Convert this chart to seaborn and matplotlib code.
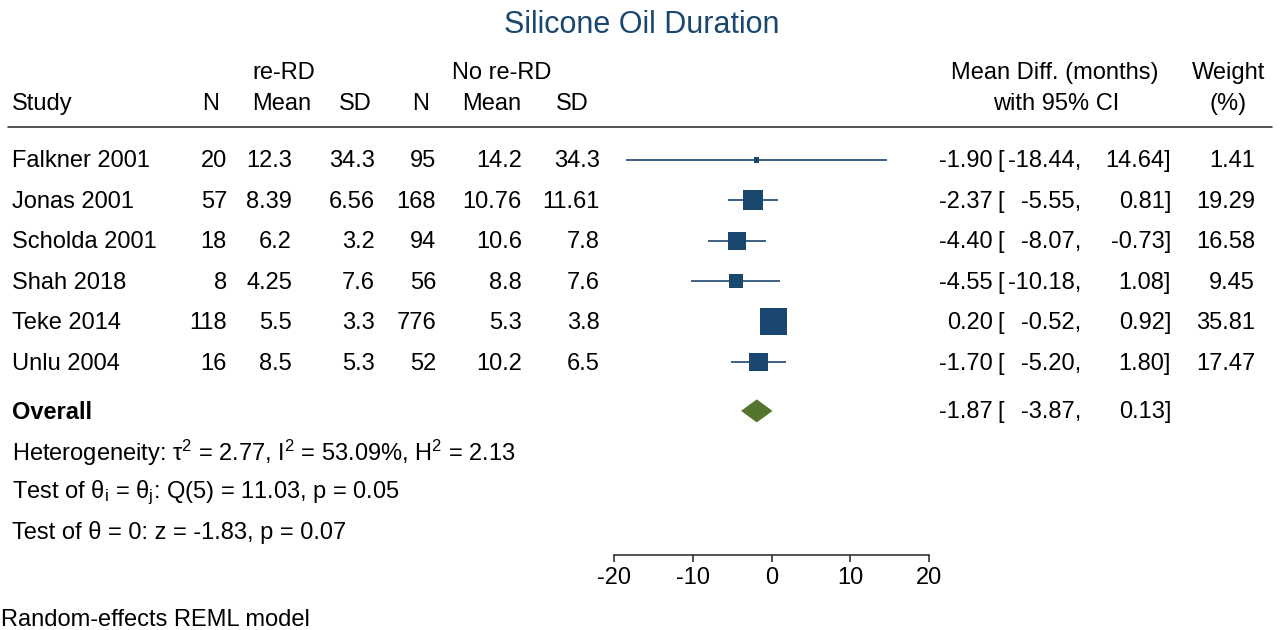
import numpy as np
import pandas as pd
import matplotlib
matplotlib.use('Agg')
import matplotlib.pyplot as plt
import matplotlib.transforms as mtransforms
import seaborn as sns

# study data
studies = ['Falkner 2001', 'Jonas 2001', 'Scholda 2001', 'Shah 2018', 'Teke 2014', 'Unlu 2004']
n_rerd = [20, 57, 18, 8, 118, 16]
mean_rerd = [12.3, 8.39, 6.2, 4.25, 5.5, 8.5]
sd_rerd = [34.3, 6.56, 3.2, 7.6, 3.3, 5.3]
n_no = [95, 168, 94, 56, 776, 52]
mean_no = [14.2, 10.76, 10.6, 8.8, 5.3, 10.2]
sd_no = [34.3, 11.61, 7.8, 7.6, 3.8, 6.5]
md = [-1.90, -2.37, -4.40, -4.55, 0.20, -1.70]
ci_lo = [-18.44, -5.55, -8.07, -10.18, -0.52, -5.20]
ci_hi = [14.64, 0.81, -0.73, 1.08, 0.92, 1.80]
weight = [1.41, 19.29, 16.58, 9.45, 35.81, 17.47]

overall_md = -1.87
overall_lo = -3.87
overall_hi = 0.13

xticks = [-20, -10, 0, 10, 20]

het_lines = [
    'Heterogeneity: τ$^2$ = 2.77, I$^2$ = 53.09%, H$^2$ = 2.13',
    'Test of θ$_i$ = θ$_j$: Q(5) = 11.03, p = 0.05',
    'Test of θ = 0: z = -1.83, p = 0.07',
]

df = pd.DataFrame({'study': studies, 'md': md, 'lo': ci_lo, 'hi': ci_hi, 'weight': weight})
df['row'] = np.arange(len(df))
overall_row = len(df) + 0.21

sns.set_theme(style='white')
plt.rcParams['font.family'] = ['Liberation Sans', 'DejaVu Sans']
plt.rcParams['mathtext.default'] = 'regular'

W, H = 1280, 630
fs = 17
navy = '#1a476f'
green = '#55752f'

fig = plt.figure(figsize=(12.8, 6.3), dpi=100)
ax = fig.add_axes([614 / W, 75 / H, 315 / W, 415 / H])

ax.hlines(df['row'], df['lo'], df['hi'], color=navy, lw=1.2, zorder=2)
wmin, wmax = min(weight), max(weight)
sns.scatterplot(data=df, x='md', y='row', size='weight', sizes=(10.56 * wmin, 10.56 * wmax),
                size_norm=(wmin, wmax), marker='s', color=navy, linewidth=0,
                legend=False, ax=ax, zorder=3)

h = 0.285
ax.fill([overall_lo, overall_md, overall_hi, overall_md],
        [overall_row, overall_row - h, overall_row, overall_row + h],
        color=green, lw=0, zorder=3)

ax.set_xlim(-20, 20)
ax.set_ylim(9.777, -0.495)
ax.set_xticks(xticks)
ax.set_xticklabels([str(t) for t in xticks])
ax.set_yticks([])
ax.set_xlabel('')
ax.set_ylabel('')
for s in ['top', 'left', 'right']:
    ax.spines[s].set_visible(False)
ax.spines['bottom'].set_color('#222222')
ax.spines['bottom'].set_linewidth(1.1)
ax.tick_params(axis='x', direction='out', length=5, width=1.1, color='#222222',
               labelsize=fs, labelcolor='black', pad=4, bottom=True)
ax.patch.set_alpha(0)


def fx(px):
    return px / W


def fy(py):
    return 1 - py / H


tr = mtransforms.blended_transform_factory(fig.transFigure, ax.transData)
tr = mtransforms.offset_copy(tr, fig=fig, x=0, y=-1.5, units='dots')
txt = dict(fontsize=fs, color='black', va='center')

# title
fig.text(fx(642), fy(25), 'Silicone Oil Duration', fontsize=22, color=navy, ha='center', va='center')

# headers
fig.text(fx(284), fy(73), 're-RD', ha='center', **txt)
fig.text(fx(502), fy(73), 'No re-RD', ha='center', **txt)
fig.text(fx(1055), fy(73), 'Mean Diff. (months)', ha='center', **txt)
fig.text(fx(1229), fy(73), 'Weight', ha='center', **txt)
fig.text(fx(12), fy(104), 'Study', ha='left', **txt)
for lab, cx in [('N', 211), ('Mean', 282), ('SD', 355), ('N', 421), ('Mean', 492), ('SD', 572)]:
    fig.text(fx(cx), fy(104), lab, ha='center', **txt)
fig.text(fx(1056), fy(104), 'with 95% CI', ha='center', **txt)
fig.text(fx(1228), fy(104), '(%)', ha='center', **txt)
fig.add_artist(plt.Line2D([fx(8), fx(1272)], [fy(127), fy(127)], transform=fig.transFigure,
                          color='#222222', lw=1.1))

# table rows
for i, r in enumerate(df['row']):
    fig.text(fx(12), r, studies[i], ha='left', transform=tr, **txt)
    cols = [(f'{n_rerd[i]}', 227), (f'{mean_rerd[i]:g}', 292), (f'{sd_rerd[i]:g}', 375),
            (f'{n_no[i]}', 436), (f'{mean_no[i]:g}', 522), (f'{sd_no[i]:g}', 600)]
    for s, rx in cols:
        fig.text(fx(rx), r, s, ha='right', transform=tr, **txt)
    fig.text(fx(993), r, f'{md[i]:.2f}', ha='right', transform=tr, **txt)
    fig.text(fx(997), r, '[', ha='left', transform=tr, **txt)
    fig.text(fx(1081), r, f'{ci_lo[i]:.2f},', ha='right', transform=tr, **txt)
    fig.text(fx(1171), r, f'{ci_hi[i]:.2f}]', ha='right', transform=tr, **txt)
    fig.text(fx(1255), r, f'{weight[i]:.2f}', ha='right', transform=tr, **txt)

fig.text(fx(12), overall_row, 'Overall', ha='left', fontweight='bold', transform=tr, **txt)
fig.text(fx(993), overall_row, f'{overall_md:.2f}', ha='right', transform=tr, **txt)
fig.text(fx(997), overall_row, '[', ha='left', transform=tr, **txt)
fig.text(fx(1081), overall_row, f'{overall_lo:.2f},', ha='right', transform=tr, **txt)
fig.text(fx(1171), overall_row, f'{overall_hi:.2f}]', ha='right', transform=tr, **txt)

for k, line in enumerate(het_lines):
    fig.text(fx(12), fy(453 + 40 * k), line, ha='left', **txt)

fig.text(fx(1), fy(620), 'Random-effects REML model', ha='left', **txt)

fig.savefig('out.png', dpi=100, facecolor='white')
